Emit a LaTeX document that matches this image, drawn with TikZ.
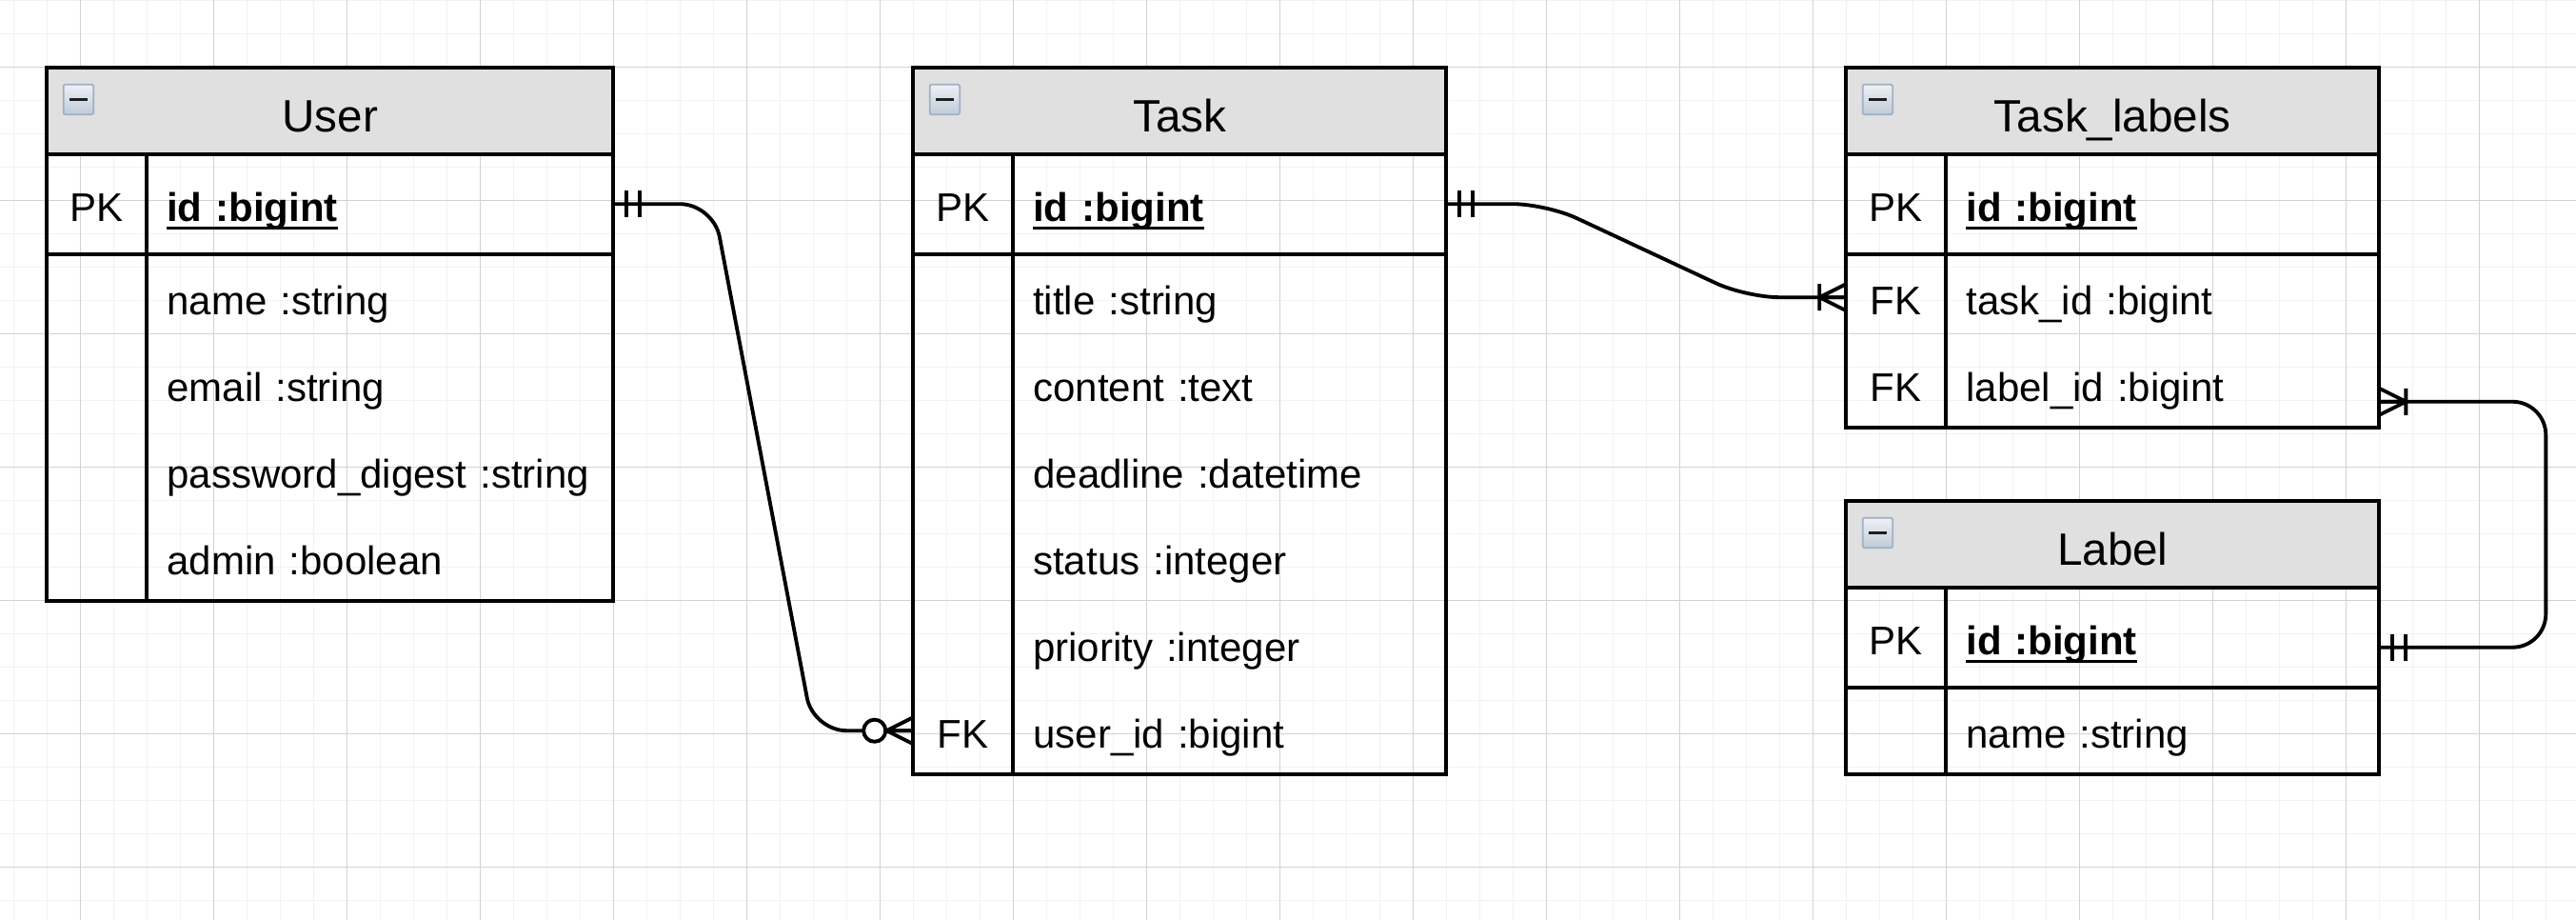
\documentclass[tikz,border=0pt]{standalone}
\usepackage{fontspec}
\setmainfont{Liberation Sans}

\definecolor{headfill}{RGB}{224,224,224}
\definecolor{gridminor}{RGB}{242,242,242}
\definecolor{gridmajor}{RGB}{210,210,210}
\definecolor{iconedge}{RGB}{160,176,196}
\definecolor{iconhi}{RGB}{238,241,245}
\definecolor{iconlo}{RGB}{192,202,216}
\definecolor{iconbar}{RGB}{30,30,30}
\newcommand\erhead{\fontsize{13.6}{16}\selectfont}
\newcommand\erfield{\fontsize{12}{14}\selectfont}
\newcommand\pkname[1]{\sbox0{\bfseries #1}\rlap{\rule[-2.4pt]{\wd0}{0.8pt}}\usebox0}

\begin{document}
\begin{tikzpicture}[x=1pt, y=1pt,
  tabline/.style={line width=1.1pt},
  tabhead/.style={tabline, draw, fill=headfill, anchor=north west, minimum height=26pt, inner sep=0pt, outer sep=0pt, font=\erhead, text height=13.5pt, text depth=0.5pt},
  keycell/.style={anchor=north west, minimum width=30pt, minimum height=26pt, inner sep=0pt, outer sep=0pt, font=\erfield, text height=11.3pt, text depth=0.7pt},
  fieldcell/.style={anchor=north west, minimum height=26pt, inner xsep=6pt, inner ysep=0pt, outer sep=0pt, align=left, font=\erfield, text height=11.3pt, text depth=0.7pt},
  pkrow/.style={minimum height=30pt},
  btn/.style={draw=iconedge, line width=0.5pt, top color=iconhi, bottom color=iconlo, rounded corners=0.6pt, minimum size=9pt, inner sep=0pt, anchor=north west},
  conn/.style={line width=1.1pt, rounded corners=10pt},
  pics/mandone/.style={code={\draw[line width=1.1pt] (4,-4) -- (4,4) (8,-4) -- (8,4);}},
  pics/onemany/.style={code={\draw[line width=1.1pt] (0,4) -- (8,0) -- (0,-4) (0,0) -- (8,0) (8,-4) -- (8,4);}},
  pics/zeromany/.style={code={\draw[line width=1.1pt] (0,4) -- (8,0) -- (0,-4) (0,0) -- (8,0); \draw[line width=1.1pt, fill=white] (11.6,0) circle (3.3pt);}}]
\useasboundingbox (-24.09,-255.8) rectangle (749.06,20.2);
\fill[white] (-24.09,-255.8) rectangle (749.06,20.2);
\draw[gridminor, line width=0.4pt, step=10pt] (-24.09,-255.8) grid (749.06,20.2);
\draw[gridmajor, line width=0.4pt, step=40pt] (-24.09,-255.8) grid (749.06,20.2);

% User
\node[tabhead, minimum width=170pt] (user) at (-10,0) {User};
\node[btn] (user-btn) at (-5.3,-4.9) {\textcolor{iconbar}{\rule{5.3pt}{1.1pt}}};
\node[keycell, pkrow] (user-pk) at (-10,-26) {PK};
\node[fieldcell, pkrow, text width=128pt] (user-id) at (20,-26) {\pkname{id :bigint}};
\node[fieldcell, text width=128pt] (user-name) at (20,-56) {name :string};
\node[fieldcell, text width=128pt] (user-email) at (20,-82) {email :string};
\node[fieldcell, text width=128pt] (user-pass) at (20,-108) {password\_digest :string};
\node[fieldcell, text width=128pt] (user-admin) at (20,-134) {admin :boolean};
\draw[tabline] (user.south west) rectangle (user-admin.south east);
\draw[tabline] (user-pk.south west) -- (user-id.south east);
\draw[tabline] (user-id.north west) -- (user-admin.south west);

% Task
\node[tabhead, minimum width=160pt] (task) at (250,0) {Task};
\node[btn] (task-btn) at (254.7,-4.9) {\textcolor{iconbar}{\rule{5.3pt}{1.1pt}}};
\node[keycell, pkrow] (task-pk) at (250,-26) {PK};
\node[fieldcell, pkrow, text width=118pt] (task-id) at (280,-26) {\pkname{id :bigint}};
\node[fieldcell, text width=118pt] (task-title) at (280,-56) {title :string};
\node[fieldcell, text width=118pt] (task-content) at (280,-82) {content :text};
\node[fieldcell, text width=118pt] (task-deadline) at (280,-108) {deadline :datetime};
\node[fieldcell, text width=118pt] (task-status) at (280,-134) {status :integer};
\node[fieldcell, text width=118pt] (task-priority) at (280,-160) {priority :integer};
\node[keycell] (task-fk) at (250,-186) {FK};
\node[fieldcell, text width=118pt] (task-uid) at (280,-186) {user\_id :bigint};
\draw[tabline] (task.south west) rectangle (task-uid.south east);
\draw[tabline] (task-pk.south west) -- (task-id.south east);
\draw[tabline] (task-id.north west) -- (task-uid.south west);

% Task_labels
\node[tabhead, minimum width=160pt] (tl) at (530,0) {Task\_labels};
\node[btn] (tl-btn) at (534.7,-4.9) {\textcolor{iconbar}{\rule{5.3pt}{1.1pt}}};
\node[keycell, pkrow] (tl-pk) at (530,-26) {PK};
\node[fieldcell, pkrow, text width=118pt] (tl-id) at (560,-26) {\pkname{id :bigint}};
\node[keycell] (tl-fk1) at (530,-56) {FK};
\node[fieldcell, text width=118pt] (tl-tid) at (560,-56) {task\_id :bigint};
\node[keycell] (tl-fk2) at (530,-82) {FK};
\node[fieldcell, text width=118pt] (tl-lid) at (560,-82) {label\_id :bigint};
\draw[tabline] (tl.south west) rectangle (tl-lid.south east);
\draw[tabline] (tl-pk.south west) -- (tl-id.south east);
\draw[tabline] (tl-id.north west) -- (tl-lid.south west);

% Label
\node[tabhead, minimum width=160pt] (lbl) at (530,-130) {Label};
\node[btn] (lbl-btn) at (534.7,-134.9) {\textcolor{iconbar}{\rule{5.3pt}{1.1pt}}};
\node[keycell, pkrow] (lbl-pk) at (530,-156) {PK};
\node[fieldcell, pkrow, text width=118pt] (lbl-id) at (560,-156) {\pkname{id :bigint}};
\node[fieldcell, text width=118pt] (lbl-name) at (560,-186) {name :string};
\draw[tabline] (lbl.south west) rectangle (lbl-name.south east);
\draw[tabline] (lbl-pk.south west) -- (lbl-id.south east);
\draw[tabline] (lbl-id.north west) -- (lbl-name.south west);

% relations
\draw[conn] (user-id.east) -- ++(30,0) -- ([xshift=-30pt]task-fk.west) -- (task-fk.west);
\draw[conn] (task-id.east) -- ++(30,0) -- ([xshift=-30pt]tl-fk1.west) -- (tl-fk1.west);
\draw[conn] ([yshift=-3pt]lbl-id.east) -- ++(50,0) |- ([yshift=-5.3pt]tl-lid.east);
\pic at (user-id.east) {mandone};
\pic[rotate=180] at (task-fk.west) {zeromany};
\pic at (task-id.east) {mandone};
\pic[rotate=180] at (tl-fk1.west) {onemany};
\pic at ([yshift=-3pt]lbl-id.east) {mandone};
\pic at ([yshift=-5.3pt]tl-lid.east) {onemany};
\end{tikzpicture}
\end{document}
